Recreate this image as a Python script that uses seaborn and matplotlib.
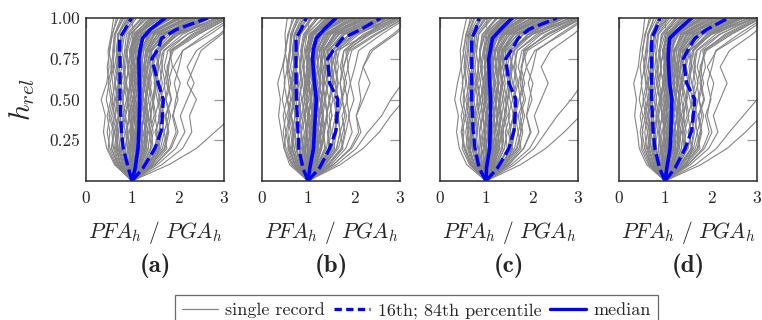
import numpy as np
import pandas as pd
import matplotlib
matplotlib.use("Agg")
import matplotlib.pyplot as plt
from matplotlib.lines import Line2D
import seaborn as sns

sns.set_style("white")
plt.rcParams["mathtext.fontset"] = "cm"
plt.rcParams["font.family"] = ["cmr10", "DejaVu Serif"]
plt.rcParams["axes.formatter.use_mathtext"] = True

# ---------------- data ----------------
heights = [0.0, 0.1, 0.2, 0.3, 0.4, 0.5, 0.6, 0.7, 0.8, 0.9, 1.0]
panel_labels = ["(a)", "(b)", "(c)", "(d)"]
x_ticks = [0, 1, 2, 3]
y_ticks = [0.25, 0.50, 0.75, 1.00]
y_tick_labels = ["0.25", "0.50", "0.75", "1.00"]

# records common to all four panels (dense core of the bundle)
core_records = [
    [1, 0.84, 0.76, 0.80, 0.74, 0.82, 0.76, 0.84, 0.78, 0.84, 1.10],
    [1, 0.87, 0.82, 0.78, 0.86, 0.80, 0.88, 0.82, 0.88, 0.92, 1.22],
    [1, 0.90, 0.86, 0.92, 0.86, 0.94, 0.88, 0.92, 0.86, 0.96, 1.34],
    [1, 0.92, 0.90, 0.86, 0.94, 0.88, 0.96, 0.90, 0.98, 1.02, 1.44],
    [1, 0.94, 0.96, 1.00, 0.92, 1.02, 0.94, 1.00, 0.94, 1.06, 1.38],
    [1, 0.96, 0.94, 0.98, 1.04, 0.96, 1.02, 0.96, 1.04, 1.12, 1.56],
    [1, 0.98, 1.02, 0.96, 1.02, 1.06, 0.98, 1.06, 1.00, 1.10, 1.64],
    [1, 1.00, 1.06, 1.10, 1.02, 1.08, 1.12, 1.04, 1.10, 1.20, 1.70],
    [1, 1.01, 1.00, 1.06, 1.12, 1.04, 1.10, 1.14, 1.06, 1.18, 1.80],
    [1, 1.03, 1.08, 1.02, 1.08, 1.14, 1.06, 1.12, 1.16, 1.26, 1.88],
    [1, 1.04, 1.12, 1.16, 1.10, 1.18, 1.12, 1.18, 1.12, 1.30, 1.76],
    [1, 1.06, 1.10, 1.14, 1.20, 1.12, 1.20, 1.14, 1.22, 1.34, 1.98],
    [1, 1.07, 1.16, 1.12, 1.18, 1.24, 1.16, 1.22, 1.18, 1.40, 2.08],
    [1, 1.09, 1.18, 1.24, 1.16, 1.22, 1.28, 1.20, 1.26, 1.46, 2.18],
    [1, 1.10, 1.14, 1.20, 1.26, 1.18, 1.26, 1.30, 1.24, 1.42, 2.30],
    [1, 1.12, 1.24, 1.18, 1.26, 1.32, 1.24, 1.28, 1.34, 1.56, 2.20],
    [1, 1.14, 1.22, 1.30, 1.24, 1.30, 1.36, 1.28, 1.36, 1.60, 2.42],
    [1, 1.16, 1.30, 1.26, 1.34, 1.28, 1.34, 1.40, 1.32, 1.62, 2.50],
    [1, 1.18, 1.28, 1.36, 1.42, 1.36, 1.42, 1.36, 1.44, 1.74, 2.62],
    [1, 1.20, 1.36, 1.32, 1.40, 1.46, 1.38, 1.46, 1.42, 1.80, 2.72],
    [1, 1.23, 1.40, 1.46, 1.40, 1.48, 1.54, 1.46, 1.54, 1.92, 2.86],
    [1, 1.27, 1.46, 1.42, 1.52, 1.46, 1.52, 1.58, 1.50, 2.02, 2.95],
    [1, 0.80, 0.70, 0.66, 0.72, 0.68, 0.74, 0.68, 0.72, 0.76, 0.96],
    [1, 0.76, 0.64, 0.70, 0.62, 0.68, 0.62, 0.70, 0.66, 0.70, 0.86],
    [1, 1.05, 0.98, 1.04, 0.98, 1.06, 1.00, 1.08, 1.02, 1.14, 1.52],
    [1, 0.95, 1.04, 1.08, 1.14, 1.08, 1.02, 1.10, 1.14, 1.22, 1.84],
    [1, 1.08, 1.20, 1.26, 1.32, 1.26, 1.20, 1.26, 1.30, 1.50, 2.36],
    [1, 1.13, 1.06, 1.12, 1.06, 1.14, 1.20, 1.12, 1.20, 1.36, 2.02],
    [1, 0.99, 0.90, 0.94, 1.00, 0.92, 0.98, 1.04, 0.96, 1.08, 1.48],
    [1, 1.15, 1.26, 1.34, 1.28, 1.36, 1.30, 1.34, 1.40, 1.68, 2.56],
]

# records common to all panels (outer parts of the bundle)
tail_records = [
    [1, 0.66, 0.52, 0.46, 0.52, 0.44, 0.50, 0.46, 0.52, 0.56, 0.70],
    [1, 0.70, 0.60, 0.56, 0.62, 0.56, 0.64, 0.58, 0.62, 0.64, 0.82],
    [1, 0.74, 0.66, 0.70, 0.64, 0.70, 0.64, 0.70, 0.66, 0.72, 0.90],
    [1, 0.68, 0.56, 0.62, 0.54, 0.62, 0.58, 0.54, 0.60, 0.62, 0.76],
    [1, 0.78, 0.70, 0.66, 0.72, 0.66, 0.72, 0.68, 0.74, 0.76, 1.00],
    [1, 0.64, 0.48, 0.52, 0.46, 0.54, 0.48, 0.56, 0.50, 0.58, 0.66],
    [1, 0.72, 0.62, 0.66, 0.58, 0.64, 0.70, 0.62, 0.68, 0.70, 0.92],
    [1, 0.82, 0.74, 0.70, 0.76, 0.70, 0.78, 0.72, 0.76, 0.80, 1.06],
    [1, 1.32, 1.56, 1.62, 1.58, 1.66, 1.60, 1.66, 1.62, 2.00, 2.70],
    [1, 1.36, 1.62, 1.70, 1.64, 1.72, 1.80, 1.70, 1.78, 2.20, 2.90],
    [1, 1.28, 1.50, 1.58, 1.66, 1.58, 1.66, 1.60, 1.68, 2.10, 2.80],
    [1, 1.42, 1.72, 1.80, 1.74, 1.86, 1.78, 1.88, 1.82, 2.35, 3.05],
    [1, 1.38, 1.66, 1.76, 1.84, 1.74, 1.70, 1.78, 1.86, 2.30, 3.00],
    [1, 1.50, 1.82, 1.96, 1.88, 2.00, 1.92, 2.02, 2.10, 2.60, 3.15],
    [1, 1.34, 1.58, 1.52, 1.60, 1.66, 1.58, 1.52, 1.60, 1.90, 2.62],
    [1, 1.46, 1.76, 1.70, 1.80, 1.74, 1.84, 1.76, 1.90, 2.45, 3.10],
    [1, 1.55, 1.95, 2.15, 2.05, 2.20, 2.35, 2.20, 2.40, 2.90, 3.30],
]

records_a = [
    [1, 0.62, 0.45, 0.38, 0.42, 0.33, 0.45, 0.50, 0.48, 0.55, 0.60],
    [1, 0.70, 0.55, 0.60, 0.50, 0.58, 0.52, 0.60, 0.58, 0.62, 0.80],
    [1, 0.75, 0.68, 0.62, 0.70, 0.65, 0.72, 0.66, 0.70, 0.68, 0.95],
    [1, 0.80, 0.72, 0.78, 0.70, 0.76, 0.70, 0.78, 0.74, 0.80, 1.05],
    [1, 0.85, 0.80, 0.74, 0.82, 0.78, 0.85, 0.80, 0.84, 0.88, 1.20],
    [1, 0.88, 0.85, 0.90, 0.84, 0.92, 0.86, 0.94, 0.88, 0.95, 1.30],
    [1, 0.92, 0.95, 0.88, 0.96, 0.90, 0.98, 0.92, 1.00, 1.05, 1.40],
    [1, 0.95, 0.98, 1.02, 0.94, 1.00, 0.95, 1.04, 0.98, 1.10, 1.50],
    [1, 0.98, 1.05, 0.98, 1.06, 1.02, 1.08, 1.00, 1.06, 1.15, 1.60],
    [1, 1.00, 1.02, 1.10, 1.04, 1.12, 1.05, 1.10, 1.08, 1.20, 1.70],
    [1, 1.03, 1.10, 1.05, 1.14, 1.08, 1.15, 1.12, 1.16, 1.25, 1.75],
    [1, 1.05, 1.12, 1.18, 1.10, 1.16, 1.12, 1.20, 1.14, 1.28, 1.85],
    [1, 1.08, 1.18, 1.12, 1.20, 1.14, 1.22, 1.16, 1.22, 1.35, 1.95],
    [1, 1.10, 1.15, 1.22, 1.18, 1.25, 1.18, 1.24, 1.20, 1.40, 2.05],
    [1, 1.12, 1.22, 1.20, 1.28, 1.22, 1.30, 1.25, 1.30, 1.48, 2.15],
    [1, 1.15, 1.25, 1.30, 1.24, 1.32, 1.26, 1.34, 1.30, 1.55, 2.25],
    [1, 1.18, 1.32, 1.28, 1.36, 1.30, 1.38, 1.32, 1.40, 1.65, 2.40],
    [1, 1.20, 1.35, 1.40, 1.35, 1.42, 1.36, 1.42, 1.38, 1.72, 2.55],
    [1, 1.25, 1.42, 1.38, 1.48, 1.45, 1.50, 1.44, 1.50, 1.85, 2.70],
    [1, 1.30, 1.50, 1.55, 1.50, 1.60, 1.52, 1.58, 1.55, 2.00, 2.85],
    [1, 1.35, 1.58, 1.65, 1.70, 1.62, 1.72, 1.65, 1.70, 2.20, 3.00],
    [1, 1.40, 1.70, 1.78, 1.72, 1.85, 1.75, 1.80, 1.85, 2.40, 3.10],
    [1, 1.50, 1.85, 2.00, 1.90, 1.95, 2.05, 1.90, 2.10, 2.70, 3.20],
    [1, 1.65, 2.10, 2.30, 2.25, 2.40, 2.20, 2.35, 2.50, 2.95, 3.30],
    [1, 1.80, 2.40, 2.80, 3.20, 3.40, 3.50, 3.60, 3.70, 3.80, 3.90],
    [1, 1.45, 1.60, 1.50, 1.62, 1.55, 1.48, 1.55, 1.62, 1.95, 2.60],
    [1, 0.90, 0.78, 0.85, 0.80, 0.88, 0.82, 0.86, 0.90, 1.00, 1.25],
    [1, 1.02, 0.92, 1.00, 0.95, 1.05, 1.00, 0.98, 1.04, 1.10, 1.45],
]
records_b = [
    [1, 0.60, 0.48, 0.42, 0.36, 0.40, 0.34, 0.44, 0.52, 0.50, 0.55],
    [1, 0.72, 0.58, 0.52, 0.60, 0.55, 0.62, 0.56, 0.60, 0.66, 0.78],
    [1, 0.78, 0.66, 0.70, 0.64, 0.72, 0.66, 0.70, 0.68, 0.72, 0.92],
    [1, 0.82, 0.75, 0.72, 0.78, 0.74, 0.80, 0.74, 0.78, 0.82, 1.08],
    [1, 0.86, 0.82, 0.86, 0.80, 0.86, 0.82, 0.88, 0.84, 0.90, 1.18],
    [1, 0.90, 0.88, 0.84, 0.90, 0.88, 0.94, 0.90, 0.92, 0.98, 1.32],
    [1, 0.93, 0.92, 0.96, 0.92, 0.98, 0.92, 0.98, 0.96, 1.04, 1.42],
    [1, 0.96, 1.00, 0.96, 1.02, 0.96, 1.04, 0.98, 1.04, 1.08, 1.52],
    [1, 0.99, 1.04, 1.06, 1.00, 1.08, 1.02, 1.06, 1.00, 1.12, 1.58],
    [1, 1.01, 1.08, 1.04, 1.10, 1.05, 1.12, 1.08, 1.10, 1.18, 1.66],
    [1, 1.04, 1.06, 1.14, 1.08, 1.16, 1.10, 1.14, 1.12, 1.24, 1.74],
    [1, 1.06, 1.14, 1.10, 1.18, 1.12, 1.20, 1.14, 1.18, 1.30, 1.82],
    [1, 1.09, 1.16, 1.22, 1.16, 1.24, 1.16, 1.22, 1.20, 1.36, 1.92],
    [1, 1.11, 1.22, 1.18, 1.24, 1.20, 1.26, 1.20, 1.26, 1.44, 2.02],
    [1, 1.14, 1.20, 1.28, 1.22, 1.30, 1.24, 1.30, 1.28, 1.50, 2.12],
    [1, 1.16, 1.28, 1.26, 1.32, 1.28, 1.34, 1.30, 1.34, 1.58, 2.25],
    [1, 1.19, 1.30, 1.36, 1.32, 1.38, 1.32, 1.38, 1.36, 1.66, 2.38],
    [1, 1.22, 1.38, 1.34, 1.42, 1.38, 1.44, 1.40, 1.46, 1.78, 2.52],
    [1, 1.26, 1.44, 1.50, 1.46, 1.54, 1.48, 1.52, 1.50, 1.90, 2.68],
    [1, 1.32, 1.52, 1.58, 1.62, 1.56, 1.64, 1.58, 1.62, 2.05, 2.80],
    [1, 1.38, 1.62, 1.70, 1.66, 1.76, 1.70, 1.74, 1.78, 2.25, 2.95],
    [1, 1.44, 1.74, 1.82, 1.90, 1.84, 1.92, 1.86, 1.95, 2.50, 3.10],
    [1, 1.55, 1.92, 2.10, 2.05, 2.15, 2.10, 2.20, 2.35, 2.85, 3.25],
    [1, 1.70, 2.20, 2.55, 2.80, 3.10, 3.30, 3.40, 3.50, 3.60, 3.70],
    [1, 1.62, 2.05, 2.30, 2.60, 2.80, 3.05, 3.20, 3.30, 3.40, 3.50],
    [1, 0.88, 0.80, 0.78, 0.84, 0.80, 0.86, 0.82, 0.86, 0.94, 1.22],
    [1, 1.00, 0.94, 0.98, 0.94, 1.00, 0.96, 1.02, 1.00, 1.08, 1.46],
    [1, 1.30, 1.48, 1.44, 1.52, 1.46, 1.56, 1.50, 1.62, 2.30, 2.70],
]
records_c = [
    [1, 0.58, 0.42, 0.36, 0.40, 0.32, 0.38, 0.46, 0.44, 0.50, 0.58],
    [1, 0.68, 0.54, 0.48, 0.56, 0.50, 0.56, 0.52, 0.56, 0.60, 0.74],
    [1, 0.74, 0.64, 0.60, 0.66, 0.60, 0.68, 0.62, 0.66, 0.66, 0.88],
    [1, 0.79, 0.70, 0.74, 0.68, 0.72, 0.68, 0.74, 0.70, 0.76, 1.00],
    [1, 0.84, 0.78, 0.72, 0.78, 0.74, 0.80, 0.76, 0.80, 0.84, 1.14],
    [1, 0.87, 0.84, 0.86, 0.82, 0.88, 0.82, 0.90, 0.86, 0.92, 1.26],
    [1, 0.91, 0.90, 0.86, 0.92, 0.88, 0.94, 0.88, 0.94, 1.00, 1.36],
    [1, 0.94, 0.96, 0.98, 0.92, 0.98, 0.94, 1.00, 0.96, 1.06, 1.46],
    [1, 0.97, 1.02, 0.96, 1.04, 0.98, 1.04, 0.98, 1.02, 1.10, 1.54],
    [1, 0.99, 1.00, 1.06, 1.00, 1.08, 1.02, 1.08, 1.04, 1.16, 1.62],
    [1, 1.02, 1.08, 1.02, 1.10, 1.06, 1.12, 1.08, 1.12, 1.22, 1.70],
    [1, 1.04, 1.10, 1.14, 1.08, 1.14, 1.10, 1.16, 1.10, 1.26, 1.80],
    [1, 1.07, 1.16, 1.10, 1.18, 1.12, 1.20, 1.14, 1.20, 1.32, 1.90],
    [1, 1.09, 1.14, 1.20, 1.16, 1.22, 1.16, 1.22, 1.18, 1.38, 2.00],
    [1, 1.11, 1.20, 1.18, 1.26, 1.20, 1.28, 1.22, 1.28, 1.46, 2.12],
    [1, 1.14, 1.24, 1.28, 1.22, 1.30, 1.24, 1.32, 1.28, 1.52, 2.22],
    [1, 1.17, 1.30, 1.26, 1.34, 1.28, 1.36, 1.30, 1.38, 1.62, 2.36],
    [1, 1.20, 1.34, 1.38, 1.34, 1.40, 1.34, 1.40, 1.36, 1.70, 2.50],
    [1, 1.24, 1.40, 1.36, 1.46, 1.42, 1.48, 1.42, 1.48, 1.82, 2.66],
    [1, 1.29, 1.48, 1.54, 1.48, 1.58, 1.50, 1.56, 1.52, 1.98, 2.82],
    [1, 1.34, 1.56, 1.62, 1.68, 1.60, 1.70, 1.62, 1.68, 2.16, 2.98],
    [1, 1.40, 1.68, 1.76, 1.70, 1.82, 1.74, 1.78, 1.82, 2.36, 3.10],
    [1, 1.48, 1.82, 1.98, 1.88, 1.94, 2.02, 1.88, 2.06, 2.66, 3.20],
    [1, 1.62, 2.05, 2.30, 2.55, 2.85, 3.10, 3.30, 3.40, 3.50, 3.60],
    [1, 1.75, 2.30, 2.70, 3.05, 3.30, 3.40, 3.50, 3.60, 3.70, 3.80],
    [1, 1.44, 1.58, 1.48, 1.60, 1.52, 1.46, 1.54, 1.60, 1.92, 2.58],
    [1, 0.89, 0.76, 0.82, 0.78, 0.86, 0.80, 0.84, 0.88, 0.98, 1.22],
    [1, 1.01, 0.90, 0.98, 0.94, 1.02, 0.98, 0.96, 1.02, 1.08, 1.42],
]
records_d = [
    [1, 0.60, 0.44, 0.40, 0.34, 0.38, 0.32, 0.42, 0.46, 0.52, 0.56],
    [1, 0.70, 0.56, 0.50, 0.58, 0.52, 0.60, 0.54, 0.58, 0.64, 0.76],
    [1, 0.76, 0.66, 0.62, 0.68, 0.62, 0.70, 0.64, 0.68, 0.70, 0.90],
    [1, 0.81, 0.72, 0.76, 0.70, 0.74, 0.70, 0.76, 0.72, 0.78, 1.04],
    [1, 0.85, 0.80, 0.76, 0.82, 0.76, 0.82, 0.78, 0.82, 0.86, 1.16],
    [1, 0.89, 0.86, 0.88, 0.84, 0.90, 0.84, 0.92, 0.88, 0.94, 1.28],
    [1, 0.92, 0.92, 0.88, 0.94, 0.90, 0.96, 0.90, 0.96, 1.02, 1.38],
    [1, 0.95, 0.98, 1.00, 0.94, 1.00, 0.96, 1.02, 0.98, 1.06, 1.48],
    [1, 0.98, 1.04, 0.98, 1.06, 1.00, 1.06, 1.00, 1.04, 1.12, 1.56],
    [1, 1.00, 1.02, 1.08, 1.02, 1.10, 1.04, 1.10, 1.06, 1.16, 1.64],
    [1, 1.03, 1.10, 1.04, 1.12, 1.08, 1.14, 1.10, 1.14, 1.22, 1.72],
    [1, 1.05, 1.12, 1.16, 1.10, 1.16, 1.12, 1.18, 1.12, 1.28, 1.82],
    [1, 1.08, 1.18, 1.12, 1.20, 1.14, 1.22, 1.16, 1.22, 1.34, 1.92],
    [1, 1.10, 1.16, 1.22, 1.18, 1.24, 1.18, 1.24, 1.20, 1.40, 2.02],
    [1, 1.12, 1.22, 1.20, 1.28, 1.22, 1.30, 1.24, 1.30, 1.48, 2.12],
    [1, 1.15, 1.26, 1.30, 1.24, 1.32, 1.26, 1.34, 1.30, 1.54, 2.24],
    [1, 1.18, 1.32, 1.28, 1.36, 1.30, 1.38, 1.32, 1.40, 1.64, 2.36],
    [1, 1.21, 1.36, 1.40, 1.36, 1.42, 1.36, 1.42, 1.38, 1.72, 2.50],
    [1, 1.25, 1.42, 1.38, 1.48, 1.44, 1.50, 1.44, 1.50, 1.84, 2.64],
    [1, 1.30, 1.50, 1.56, 1.50, 1.60, 1.52, 1.58, 1.54, 2.00, 2.80],
    [1, 1.35, 1.58, 1.64, 1.70, 1.62, 1.72, 1.64, 1.70, 2.18, 2.96],
    [1, 1.42, 1.70, 1.78, 1.72, 1.84, 1.76, 1.80, 1.86, 2.40, 3.10],
    [1, 1.50, 1.86, 2.02, 1.92, 1.98, 2.06, 1.92, 2.12, 2.70, 3.20],
    [1, 1.66, 2.12, 2.40, 2.70, 3.00, 3.20, 3.35, 3.45, 3.55, 3.65],
    [1, 1.78, 2.35, 2.75, 3.10, 3.30, 3.40, 3.50, 3.60, 3.70, 3.80],
    [1, 1.46, 1.60, 1.50, 1.62, 1.54, 1.48, 1.56, 1.62, 1.96, 2.62],
    [1, 0.90, 0.78, 0.84, 0.80, 0.88, 0.82, 0.86, 0.90, 1.00, 1.24],
    [1, 1.02, 0.92, 1.00, 0.96, 1.04, 1.00, 0.98, 1.04, 1.10, 1.44],
]

# percentile / median curves
pct_h = [0.0, 0.08, 0.2, 0.31, 0.5, 0.6, 0.75, 0.81, 0.875, 0.93, 1.0]
p16_a = [1.0, 0.92, 0.81, 0.77, 0.74, 0.74, 0.74, 0.73, 0.73, 0.85, 0.99]
p84_a = [1.0, 1.24, 1.50, 1.64, 1.68, 1.57, 1.43, 1.57, 1.64, 1.97, 2.65]
med_a = [1.0, 1.07, 1.13, 1.15, 1.17, 1.16, 1.15, 1.18, 1.23, 1.40, 1.72]

p16_b = [1.0, 0.89, 0.80, 0.78, 0.75, 0.74, 0.74, 0.74, 0.74, 0.85, 0.96]
p84_b = [1.0, 1.25, 1.47, 1.61, 1.65, 1.47, 1.43, 1.57, 1.75, 2.15, 2.58]
med_b = [1.0, 1.04, 1.12, 1.14, 1.18, 1.14, 1.10, 1.12, 1.18, 1.35, 1.61]

p16_c = [1.0, 0.85, 0.76, 0.72, 0.69, 0.69, 0.69, 0.69, 0.69, 0.78, 0.85]
p84_c = [1.0, 1.25, 1.50, 1.61, 1.65, 1.50, 1.43, 1.57, 1.70, 1.93, 2.54]
med_c = [1.0, 1.01, 1.08, 1.09, 1.10, 1.08, 1.06, 1.10, 1.14, 1.32, 1.57]

p16_d = [1.0, 0.88, 0.78, 0.74, 0.71, 0.71, 0.71, 0.71, 0.71, 0.80, 0.89]
p84_d = [1.0, 1.22, 1.44, 1.58, 1.65, 1.47, 1.40, 1.51, 1.65, 1.91, 2.38]
med_d = [1.0, 1.04, 1.11, 1.13, 1.15, 1.10, 1.07, 1.08, 1.10, 1.30, 1.58]

all_records = [records_a, records_b, records_c, records_d]
all_p16 = [p16_a, p16_b, p16_c, p16_d]
all_p84 = [p84_a, p84_b, p84_c, p84_d]
all_med = [med_a, med_b, med_c, med_d]

# ---------------- figure ----------------
W, H = 762, 320
fig = plt.figure(figsize=(W / 100, H / 100), dpi=100)

lefts = [86, 262, 440, 619]
ax_w = 138
ax_top, ax_bot = 18, 181

grey = "#858585"
blue = "#0000ff"
dash = (3.6, 1.3)

for i in range(4):
    ax = fig.add_axes([lefts[i] / W, (H - ax_bot) / H, ax_w / W, (ax_bot - ax_top) / H])
    rows = []
    for r, rec in enumerate(core_records + tail_records + all_records[i]):
        for h, v in zip(heights, rec):
            rows.append({"rec": r, "h": h, "x": v})
    df = pd.DataFrame(rows)
    sns.lineplot(data=df, x="x", y="h", units="rec", estimator=None, sort=False,
                 orient="y", color=grey, lw=0.8, ax=ax, legend=False)
    sns.lineplot(x=all_p16[i], y=pct_h, sort=False, orient="y", estimator=None,
                 color=blue, lw=2.4, ax=ax, legend=False)
    sns.lineplot(x=all_p84[i], y=pct_h, sort=False, orient="y", estimator=None,
                 color=blue, lw=2.4, ax=ax, legend=False)
    sns.lineplot(x=all_med[i], y=pct_h, sort=False, orient="y", estimator=None,
                 color=blue, lw=2.6, ax=ax, legend=False)
    for ln in ax.get_lines()[-3:-1]:
        ln.set_dashes(dash)
        ln.set_dash_capstyle("butt")

    ax.set_xlim(0, 3)
    ax.set_ylim(0, 1)
    ax.set_xticks(x_ticks)
    ax.set_xticklabels([str(t) for t in x_ticks], fontsize=12.5, family="cmr10")
    ax.set_yticks(y_ticks)
    if i == 0:
        ax.set_yticklabels(y_tick_labels, fontsize=12.5, family="cmr10")
        ax.set_ylabel(r"$h_{rel}$", fontsize=21, labelpad=9)
    else:
        ax.set_yticklabels([])
        ax.set_ylabel("")
    ax.tick_params(axis="both", direction="in", length=7, width=0.9,
                   color="#9a9a9a", top=True, right=True, pad=4)
    ax.tick_params(axis="x", pad=7)
    for s in ax.spines.values():
        s.set_color("#2b2b2b")
        s.set_linewidth(1.1)
    ax.set_xlabel(r"$PFA_h\ /\ PGA_h$", fontsize=15.5, labelpad=9)
    ax.text(0.5, -0.52, panel_labels[i], transform=ax.transAxes, ha="center",
            va="center", fontsize=18, family="cmb10", fontweight="bold")

handles = [
    Line2D([], [], color=grey, lw=0.9),
    Line2D([], [], color=blue, lw=2.4, dashes=(2.2, 1.3)),
    Line2D([], [], color=blue, lw=2.4),
]
leg = fig.legend(handles, ["single record", "16th; 84th percentile", "median"],
                 loc="upper center", bbox_to_anchor=(416.5 / W, (H - 286) / H),
                 ncol=3, frameon=True, fancybox=False,
                 handlelength=2.0, handletextpad=0.4, columnspacing=0.5,
                 borderpad=0.4, prop={"family": "cmr10", "size": 13.0})
leg.get_frame().set_edgecolor("#444444")
leg.get_frame().set_linewidth(0.9)

fig.savefig("out.png", dpi=100)
